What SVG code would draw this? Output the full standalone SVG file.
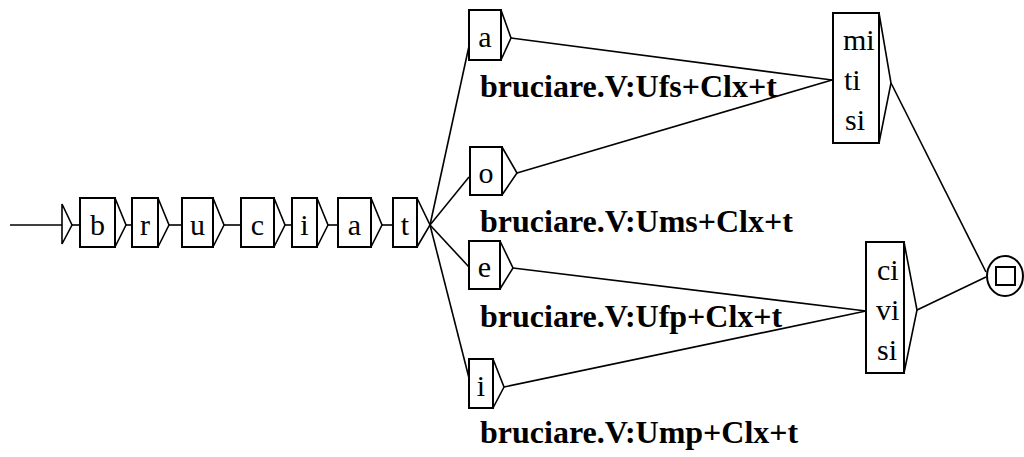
<svg xmlns="http://www.w3.org/2000/svg" width="1024" height="457" viewBox="0 0 1024 457">
<style>
.box{fill:none;stroke:#000;stroke-width:2}
.arr{fill:none;stroke:#000;stroke-width:1.6;stroke-linejoin:miter}
.ln{fill:none;stroke:#000;stroke-width:1.6}
.t{font-family:"Liberation Serif","Times New Roman",serif;font-size:30px;fill:#000}
.lab{font-family:"Liberation Serif","Times New Roman",serif;font-size:32px;font-weight:bold;fill:#000}
</style>
<rect width="1024" height="457" fill="#fff"/>
<g id="connectors">
<line class="ln" x1="10" y1="225" x2="62" y2="225"/>
<line class="ln" x1="72" y1="225" x2="80" y2="225"/>
<line class="ln" x1="126" y1="225" x2="132" y2="225"/>
<line class="ln" x1="169" y1="225" x2="182" y2="225"/>
<line class="ln" x1="224" y1="225" x2="241" y2="225"/>
<line class="ln" x1="285" y1="225" x2="292" y2="225"/>
<line class="ln" x1="328" y1="225" x2="338" y2="225"/>
<line class="ln" x1="382" y1="225" x2="393" y2="225"/>
<line class="ln" x1="430" y1="225" x2="469" y2="46"/>
<line class="ln" x1="430" y1="225" x2="469" y2="177"/>
<line class="ln" x1="430" y1="225" x2="469" y2="267"/>
<line class="ln" x1="430" y1="225" x2="469" y2="378"/>
<line class="ln" x1="511" y1="38" x2="832" y2="80"/>
<line class="ln" x1="517" y1="173" x2="832" y2="80"/>
<line class="ln" x1="513" y1="268" x2="866" y2="311"/>
<line class="ln" x1="504" y1="387" x2="866" y2="311"/>
<line class="ln" x1="891" y1="83" x2="986" y2="272"/>
<line class="ln" x1="917" y1="310" x2="986" y2="277"/>
</g>
<g id="initial">
<polygon class="arr" points="62,204 72,225 62,244"/>
</g>
<g id="n_b"><rect class="box" x="80" y="198" width="35" height="49"/><polyline class="arr" points="115,198 126,225 115,247"/><text class="t" x="97.5" y="235" text-anchor="middle">b</text></g>
<g id="n_r"><rect class="box" x="132" y="198" width="26" height="49"/><polyline class="arr" points="158,198 169,225 158,247"/><text class="t" x="145" y="235" text-anchor="middle">r</text></g>
<g id="n_u"><rect class="box" x="182" y="198" width="31" height="49"/><polyline class="arr" points="213,198 224,225 213,247"/><text class="t" x="197.5" y="235" text-anchor="middle">u</text></g>
<g id="n_c"><rect class="box" x="241" y="198" width="33" height="49"/><polyline class="arr" points="274,198 285,225 274,247"/><text class="t" x="257.5" y="235" text-anchor="middle">c</text></g>
<g id="n_i"><rect class="box" x="292" y="198" width="25" height="49"/><polyline class="arr" points="317,198 328,225 317,247"/><text class="t" x="304.5" y="235" text-anchor="middle">i</text></g>
<g id="n_a"><rect class="box" x="338" y="198" width="33" height="49"/><polyline class="arr" points="371,198 382,225 371,247"/><text class="t" x="354.5" y="235" text-anchor="middle">a</text></g>
<g id="n_t"><rect class="box" x="393" y="198" width="24" height="49"/><polyline class="arr" points="417,198 430,225 417,247"/><text class="t" x="405" y="235" text-anchor="middle">t</text></g>
<g id="n_a2"><rect class="box" x="469" y="10" width="32" height="50"/><polyline class="arr" points="501,10 511,38 501,60"/><text class="t" x="485" y="47" text-anchor="middle">a</text></g>
<g id="n_o"><rect class="box" x="470" y="147" width="32" height="48"/><polyline class="arr" points="502,147 517,173 502,195"/><text class="t" x="486" y="183" text-anchor="middle">o</text></g>
<g id="n_e"><rect class="box" x="469" y="241" width="31" height="48"/><polyline class="arr" points="500,241 513,268 500,289"/><text class="t" x="484.5" y="277" text-anchor="middle">e</text></g>
<g id="n_i2"><rect class="box" x="469" y="359" width="24" height="49"/><polyline class="arr" points="493,359 504,387 493,408"/><text class="t" x="481" y="396" text-anchor="middle">i</text></g>
<g id="labels">
<text class="lab" x="480" y="97">bruciare.V:Ufs+Clx+t</text>
<text class="lab" x="480" y="232">bruciare.V:Ums+Clx+t</text>
<text class="lab" x="480" y="327">bruciare.V:Ufp+Clx+t</text>
<text class="lab" x="480" y="443">bruciare.V:Ump+Clx+t</text>
</g>
<g id="n_miti"><rect class="box" x="833" y="13" width="46" height="130"/><polyline class="arr" points="879,13 891,83 879,143"/><text class="t" x="843" y="50">mi</text><text class="t" x="844" y="90">ti</text><text class="t" x="845" y="130">si</text></g>
<g id="n_civi"><rect class="box" x="866" y="242" width="38" height="131"/><polyline class="arr" points="904,242 917,310 904,373"/><text class="t" x="877" y="280">ci</text><text class="t" x="876" y="320">vi</text><text class="t" x="877" y="360">si</text></g>
<g id="final"><ellipse class="box" cx="1005" cy="276" rx="18" ry="20"/><rect class="box" x="996" y="267" width="19" height="18"/></g>
</svg>
